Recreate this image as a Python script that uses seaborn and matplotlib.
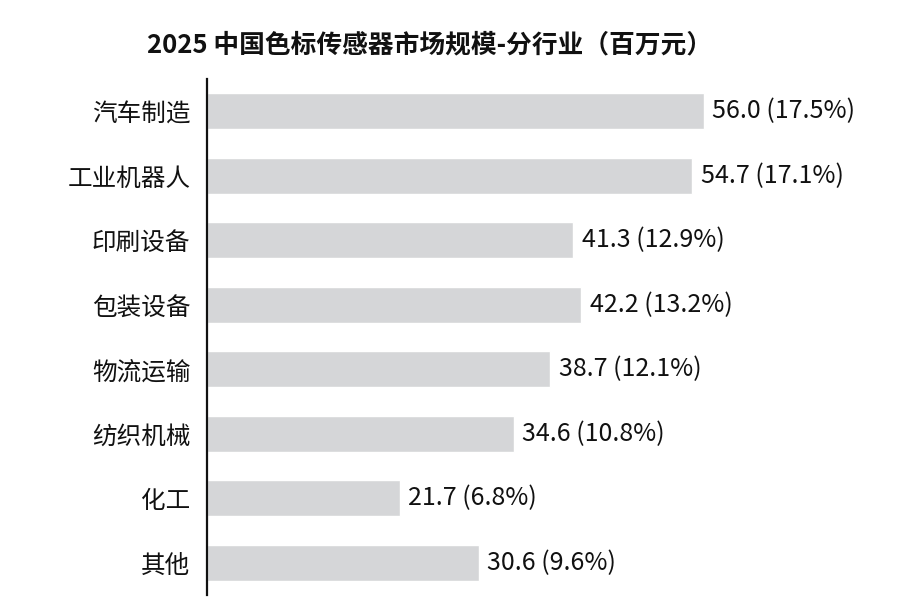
import pandas as pd
import matplotlib
matplotlib.use("Agg")
import matplotlib.pyplot as plt
import seaborn as sns

# 数据
industries = ['汽车制造', '工业机器人', '印刷设备', '包装设备', '物流运输', '纺织机械', '化工', '其他']
values = [56.0, 54.7, 41.3, 42.2, 38.7, 34.6, 21.7, 30.6]
shares = [17.5, 17.1, 12.9, 13.2, 12.1, 10.8, 6.8, 9.6]

sns.set_theme(style='white')
plt.rcParams['font.family'] = ['Noto Sans CJK SC', 'DejaVu Sans']

df = pd.DataFrame({'industry': industries, 'value': values, 'share': shares})

fig = plt.figure(figsize=(8.99, 6.12), dpi=100)
ax = fig.add_axes([0.2303, 0.0278, 0.7697, 0.8431])

sns.barplot(data=df, x='value', y='industry', color='#d5d6d8', saturation=1,
            width=0.56, orient='h', ax=ax)

for i, (v, s) in enumerate(zip(values, shares)):
    ax.annotate(f'{v:.1f} ({s:.1f}%)', xy=(v, i), xytext=(6, 0),
                textcoords='offset points', va='center', ha='left',
                fontsize=18, color='#111111')

ax.set_xlim(0, 78)
ax.set_ylim(7.5, -0.5)
ax.set_xlabel('')
ax.set_ylabel('')
ax.set_xticks([])
ax.tick_params(axis='y', length=0, pad=12, labelsize=17.7, labelcolor='#111111')
for side in ['top', 'right', 'bottom']:
    ax.spines[side].set_visible(False)
ax.spines['left'].set_color('#111111')
ax.spines['left'].set_linewidth(1.6)

fig.text(0.478, 0.926, '2025 中国色标传感器市场规模-分行业（百万元）',
         ha='center', va='center', fontsize=18.5, fontweight='bold', color='#111111')

fig.savefig('out.png', dpi=100)
